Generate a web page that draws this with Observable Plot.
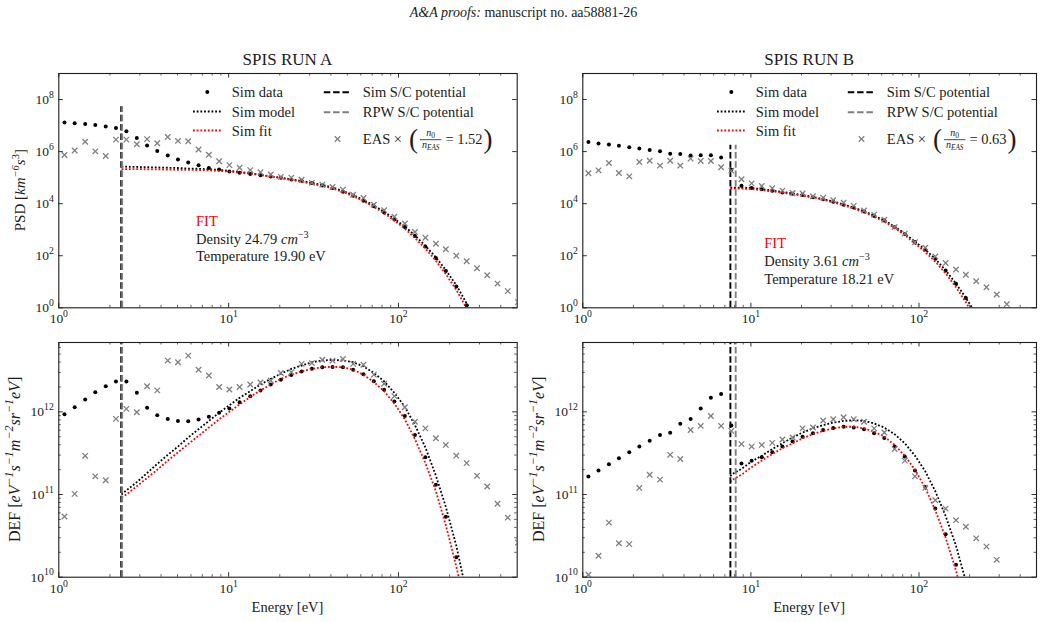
<!DOCTYPE html>
<html>
<head>
<meta charset="utf-8">
<script src="https://cdn.jsdelivr.net/npm/d3@7"></script>
<script src="https://cdn.jsdelivr.net/npm/@observablehq/plot@0.6"></script>
<style>
  html, body { margin: 0; padding: 0; background: #fff; }
  #chart { position: relative; width: 1047px; height: 622px; overflow: hidden; }
  #chart svg { position: absolute; left: 0; top: 0; }
</style>
</head>
<body>
<div id="chart"></div>
<script>
// ---------------------------------------------------------------------------
// Data. Spectra values are stored as log10 of the plotted quantity.
// ---------------------------------------------------------------------------

// Energy bins [eV] shared by the simulated and EAS spectra
const energy = [1.08, 1.24, 1.43, 1.64, 1.89, 2.17, 2.50, 2.88, 3.31, 3.80,
  4.38, 5.03, 5.78, 6.65, 7.65, 8.79, 10.1, 11.6, 13.4, 15.4,
  17.7, 20.3, 23.4, 26.9, 30.9, 35.6, 40.9, 47.1, 54.1, 62.2,
  71.6, 82.3, 94.6, 109, 125, 144, 166, 190, 219, 252,
  290, 333, 383, 440, 506];

// Run A — phase space density, log10 [km^-6 s^3]
const psdSimA = [7.115, 7.088, 7.06, 7.023, 6.96, 6.908, 6.78, 6.523, 6.23, 6.02,
  5.846, 5.70, 5.577, 5.473, 5.369, 5.31, 5.24, 5.19, 5.14, 5.09,
  5.04, 5.0, 4.93, 4.88, 4.79, 4.70, 4.60, 4.46, 4.30, 4.11,
  3.90, 3.66, 3.39, 3.10, 2.76, 2.355, 1.915, 1.415, 0.82, 0.10];
const psdEasA = [5.87, 6.04, 6.38, 6.01, 5.83, 6.46, 6.46, 6.28, 6.48, 6.32,
  6.56, 6.41, 6.40, 6.08, 5.88, 5.63, 5.48, 5.38, 5.29, 5.21,
  5.12, 5.03, 5.00, 4.92, 4.80, 4.73, 4.64, 4.54, 4.34, 4.22,
  3.96, 3.75, 3.50, 3.24, 2.91, 2.69, 2.46, 2.25, 2.00, 1.79,
  1.52, 1.25, 0.93, 0.64, 0.22];

// Run A — model and fit curves, starting at the simulated S/C potential
const curveEnergyA = [2.34, 2.50, 2.88, 3.31, 3.80, 4.38, 5.03, 5.78, 6.65, 7.65,
  8.79, 10.1, 11.6, 13.4, 15.4, 17.7, 20.3, 23.4, 26.9, 30.9,
  35.6, 40.9, 47.1, 54.1, 62.2, 71.6, 82.3, 94.6, 109, 125,
  144, 166, 190, 219, 252, 290];
const psdModelA = [5.42, 5.42, 5.41, 5.40, 5.39, 5.38, 5.37, 5.35, 5.34, 5.32,
  5.30, 5.26, 5.22, 5.17, 5.11, 5.05, 5.00, 4.93, 4.87, 4.80,
  4.72, 4.62, 4.49, 4.33, 4.14, 3.93, 3.69, 3.42, 3.12, 2.78,
  2.38, 1.94, 1.45, 0.87, 0.17, -0.6];
const psdFitA = [5.33, 5.33, 5.33, 5.32, 5.32, 5.31, 5.30, 5.30, 5.29, 5.28,
  5.26, 5.23, 5.19, 5.15, 5.10, 5.04, 4.98, 4.91, 4.84, 4.76,
  4.68, 4.58, 4.45, 4.29, 4.10, 3.88, 3.63, 3.35, 3.04, 2.68,
  2.27, 1.81, 1.29, 0.69, -0.02, -0.8];

// Run A — differential energy flux, log10 [eV^-1 s^-1 m^-2 sr^-1 eV]
const defSimA = [11.97, 12.056, 12.149, 12.237, 12.31, 12.366, 12.366, 12.23, 12.05, 11.96,
  11.915, 11.89, 11.886, 11.907, 11.94, 11.99, 12.04, 12.116, 12.19, 12.257,
  12.33, 12.387, 12.447, 12.487, 12.52, 12.54, 12.544, 12.54, 12.51, 12.455,
  12.37, 12.266, 12.124, 11.95, 11.72, 11.452, 11.117, 10.73, 10.24];
const defEasA = [10.734, 11.008, 11.468, 11.22, 11.173, 11.915, 12.036, 11.996, 12.31, 12.26,
  12.62, 12.60, 12.68, 12.51, 12.44, 12.30, 12.27, 12.30, 12.33, 12.355,
  12.38, 12.47, 12.48, 12.58, 12.59, 12.63, 12.62, 12.64, 12.58, 12.57,
  12.45, 12.34, 12.19, 12.055, 11.88, 11.80, 11.68, 11.60, 11.47, 11.38,
  11.226, 11.097, 10.888, 10.72, 10.42];
const defModelA = [11.00, 11.05, 11.15, 11.26, 11.37, 11.48, 11.58, 11.69, 11.79, 11.89,
  11.99, 12.08, 12.17, 12.25, 12.33, 12.40, 12.46, 12.52, 12.56, 12.60,
  12.62, 12.63, 12.62, 12.60, 12.55, 12.47, 12.37, 12.23, 12.06, 11.84,
  11.57, 11.23, 10.85, 10.38, 9.8, 9.1];
const defFitA = [10.965, 11.0, 11.1, 11.2, 11.3, 11.41, 11.51, 11.61, 11.71, 11.81,
  11.91, 12.0, 12.09, 12.18, 12.26, 12.33, 12.40, 12.45, 12.49, 12.52,
  12.54, 12.545, 12.54, 12.51, 12.45, 12.36, 12.25, 12.10, 11.91, 11.67,
  11.38, 11.04, 10.63, 10.13, 9.6, 8.9];

// Run B — phase space density
const psdSimB = [6.37, 6.31, 6.27, 6.22, 6.17, 6.12, 6.06, 6.01, 5.92, 5.91,
  5.85, 5.86, 5.86, 5.77, 5.30, 4.69, 4.60, 4.55, 4.50, 4.43,
  4.38, 4.33, 4.25, 4.17, 4.07, 3.96, 3.85, 3.70, 3.53, 3.355,
  3.095, 2.835, 2.525, 2.24, 1.885, 1.43, 0.92, 0.375, -0.1];
const psdEasB = [5.17, 5.28, 5.56, 5.18, 5.05, 5.60, 5.65, 5.46, 5.65, 5.46,
  5.73, 5.64, 5.64, 5.40, 5.27, 4.94, 4.78, 4.68, 4.59, 4.50,
  4.41, 4.39, 4.285, 4.23, 4.135, 4.035, 3.915, 3.74, 3.58, 3.38,
  3.10, 2.85, 2.52, 2.31, 1.97, 1.72, 1.47, 1.27, 1.02, 0.79,
  0.51, 0.14];

// Run B — model and fit curves
const curveEnergyB = [7.55, 7.65, 8.79, 10.1, 11.6, 13.4, 15.4, 17.7, 20.3, 23.4,
  26.9, 30.9, 35.6, 40.9, 47.1, 54.1, 62.2, 71.6, 82.3, 94.6,
  109, 125, 144, 166, 190, 219];
const psdModelB = [4.62, 4.62, 4.62, 4.60, 4.56, 4.51, 4.45, 4.39, 4.33, 4.26,
  4.18, 4.08, 3.97, 3.85, 3.71, 3.54, 3.36, 3.12, 2.85, 2.54,
  2.23, 1.88, 1.44, 0.93, 0.38, -0.25];
const psdFitB = [4.58, 4.58, 4.58, 4.56, 4.52, 4.47, 4.42, 4.36, 4.30, 4.23,
  4.15, 4.05, 3.94, 3.81, 3.67, 3.50, 3.31, 3.07, 2.79, 2.47,
  2.14, 1.77, 1.32, 0.79, 0.21, -0.45];

// Run B — differential energy flux
const defSimB = [11.218, 11.29, 11.366, 11.44, 11.51, 11.58, 11.65, 11.72, 11.746, 11.855,
  11.915, 12.04, 12.17, 12.217, 11.834, 11.375, 11.41, 11.45, 11.51, 11.58,
  11.64, 11.70, 11.74, 11.78, 11.806, 11.82, 11.81, 11.79, 11.74, 11.683,
  11.58, 11.46, 11.29, 11.09, 10.83, 10.52, 10.15];
const defEasB = [10.03, 10.26, 10.66, 10.41, 10.40, 11.08, 11.24, 11.18, 11.48, 11.43,
  11.78, 11.83, 11.95, 11.83, 11.77, 11.61, 11.58, 11.60, 11.625, 11.665,
  11.69, 11.80, 11.81, 11.895, 11.91, 11.935, 11.91, 11.88, 11.80, 11.75,
  11.55, 11.41, 11.22, 11.08, 10.93, 10.83, 10.69, 10.61, 10.47, 10.37,
  10.21];
const defModelB = [11.22, 11.24, 11.31, 11.40, 11.47, 11.55, 11.62, 11.69, 11.75, 11.80,
  11.84, 11.87, 11.89, 11.90, 11.89, 11.86, 11.81, 11.73, 11.62, 11.47,
  11.28, 11.04, 10.74, 10.38, 9.95, 9.4];
const defFitB = [11.15, 11.17, 11.24, 11.33, 11.41, 11.49, 11.56, 11.62, 11.68, 11.73,
  11.77, 11.80, 11.82, 11.82, 11.80, 11.76, 11.70, 11.60, 11.47, 11.30,
  11.08, 10.81, 10.48, 10.08, 9.6, 9.0];

// Spacecraft potentials [eV] for runs A and B, and height (log10 PSD) of their markers
const simPotential = [2.33, 7.55];
const rpwPotential = [2.36, 8.12];
const potentialTopPsd = [7.72, 6.24];

// Fit results and EAS normalisation for runs A and B
const runTitles = ["SPIS RUN A", "SPIS RUN B"];
const fitDensity = ["24.79", "3.61"];
const fitTemperature = ["19.90", "18.21"];
const easScale = ["1.52", "0.63"];

// Axis ticks
const xMajorTicks = [1, 10, 100];
const xMinorTicks = [2, 3, 4, 5, 6, 7, 8, 9, 20, 30, 40, 50, 60, 70, 80, 90, 200, 300, 400];
const psdMajorTicks = [1, 1e2, 1e4, 1e6, 1e8];
const defMajorTicks = [1e10, 1e11, 1e12];
const defMinorTicks = [2e10, 3e10, 4e10, 5e10, 6e10, 7e10, 8e10, 9e10,
  2e11, 3e11, 4e11, 5e11, 6e11, 7e11, 8e11, 9e11, 2e12, 3e12, 4e12, 5e12, 6e12];

// ---------------------------------------------------------------------------
// Layout and style
// ---------------------------------------------------------------------------
const PAGE_W = 1047, PAGE_H = 622;
const FONT = "'Liberation Serif', 'DejaVu Serif', serif";
const INK = "#1c1c1c";
const GRAY = "#808080";
const colLeft = [58.3, 582.3], colRight = [516.7, 1036];
const rowTop = [73, 342], rowBottom = [307.3, 576.7];
const psdDomain = [1, 1e9], defDomain = [1e10, 6.9e12];
const DOTTED = "1.8,1.9", DASHED = "6.5,2.8";
const DOT_W = 1.8;

const chart = document.getElementById("chart");
const rows = (xs, logs) => logs.map((v, i) => ({E: xs[i], v: 10 ** v}));

function frameTicks(xs, ys, fw, fh, len, width) {
  const o = {stroke: INK, strokeWidth: width};
  return [
    Plot.tickX(xs, {x: d => d, insetTop: fh - len, ...o}),
    Plot.tickX(xs, {x: d => d, insetBottom: fh - len, ...o}),
    Plot.tickY(ys, {y: d => d, insetRight: fw - len, ...o}),
    Plot.tickY(ys, {y: d => d, insetLeft: fw - len, ...o})
  ];
}

// Text with italic / superscript / subscript pieces
function rich(parent, parts, fs, supScale = 0.7) {
  const text = parent.append("text").attr("font-size", fs);
  let shift = 0;
  for (const p of parts) {
    const ts = text.append("tspan").text(p.t);
    const target = p.sup ? -0.42 * fs : p.sub ? 0.28 * fs : 0;
    if (target !== shift) { ts.attr("dy", target - shift); shift = target; }
    if (p.sup || p.sub) ts.attr("font-size", (p.small || supScale) * fs);
    if (p.it) ts.attr("font-style", "italic");
  }
  return text;
}

function drawPanel(col, row, series) {
  const fl = colLeft[col], fr = colRight[col], ft = rowTop[row], fb = rowBottom[row];
  const fw = fr - fl, fh = fb - ft;
  const isPsd = row === 0;
  const yDomain = isPsd ? psdDomain : defDomain;
  const yMajor = isPsd ? psdMajorTicks : defMajorTicks;
  const yMinor = isPsd ? [] : defMinorTicks;
  const potTop = isPsd ? 10 ** potentialTopPsd[col] : yDomain[1];
  const dotted = {strokeWidth: DOT_W, strokeDasharray: DOTTED, strokeLinecap: "butt", strokeLinejoin: "miter", clip: true};

  const svg = Plot.plot({
    width: PAGE_W, height: PAGE_H,
    marginLeft: fl, marginRight: PAGE_W - fr, marginTop: ft, marginBottom: PAGE_H - fb,
    style: {background: "transparent", fontFamily: FONT, fontSize: "13.5px", color: INK, overflow: "visible"},
    x: {type: "log", domain: [1, 500]},
    y: {type: "log", domain: yDomain},
    marks: [
      Plot.dot(rows(energy, series.sim), {x: "E", y: "v", r: 2, fill: "black", stroke: "none", clip: true}),
      Plot.line(rows(series.curveE, series.model), {x: "E", y: "v", stroke: "black", ...dotted}),
      Plot.line(rows(series.curveE, series.fit), {x: "E", y: "v", stroke: "red", ...dotted}),
      Plot.ruleX([simPotential[col]], {x: d => d, y1: yDomain[0], y2: potTop, stroke: "black", strokeWidth: 1.9, strokeDasharray: DASHED}),
      Plot.ruleX([rpwPotential[col]], {x: d => d, y1: yDomain[0], y2: potTop, stroke: GRAY, strokeWidth: 1.9, strokeDasharray: DASHED}),
      Plot.dot(rows(energy, series.eas), {x: "E", y: "v", symbol: "times", r: 2.6, stroke: GRAY, strokeWidth: 1.3, clip: true}),
      ...frameTicks(xMajorTicks, yMajor, fw, fh, 4.5, 0.9),
      ...frameTicks(xMinorTicks, yMinor, fw, fh, 2.5, 0.7),
      Plot.frame({stroke: INK, strokeWidth: 1.1}),
      Plot.axisX({ticks: xMajorTicks, tickSize: 0, tickPadding: 6, label: null,
        tickFormat: d => `10^${Math.round(Math.log10(d))}`}),
      Plot.axisY({ticks: yMajor, tickSize: 0, tickPadding: 5, label: null,
        tickFormat: d => `10^${Math.round(Math.log10(d))}`})
    ]
  });
  chart.append(svg);

  const s = d3.select(svg);
  // exponent tick labels: 10 with a raised power
  s.selectAll('g[aria-label$="tick label"] text').each(function () {
    const m = /^10\^(-?\d+)$/.exec(this.textContent);
    if (!m) return;
    const t = d3.select(this);
    t.text("10");
    t.append("tspan").attr("font-size", "0.72em").attr("dy", "-0.62em").text(m[1]);
  });
  return {s, fl, fr, ft, fb};
}

function textGroup(p) {
  return p.s.append("g").attr("font-family", FONT).attr("fill", INK).attr("text-anchor", "start");
}

function drawLegend(p, col) {
  const g = textGroup(p);
  const x0 = p.fl, y0 = p.ft, fs = 14.5;
  const r1 = y0 + 19, r2 = y0 + 38.5, r3 = y0 + 57.5;
  // column 1
  g.append("circle").attr("cx", x0 + 149).attr("cy", r1).attr("r", 2).attr("fill", "black");
  g.append("line").attr("x1", x0 + 134.7).attr("x2", x0 + 162.5).attr("y1", r2).attr("y2", r2)
    .attr("stroke", "black").attr("stroke-width", DOT_W).attr("stroke-dasharray", DOTTED);
  g.append("line").attr("x1", x0 + 134.7).attr("x2", x0 + 162.5).attr("y1", r3).attr("y2", r3)
    .attr("stroke", "red").attr("stroke-width", DOT_W).attr("stroke-dasharray", DOTTED);
  [["Sim data", r1], ["Sim model", r2], ["Sim fit", r3]].forEach(([t, y]) =>
    g.append("text").attr("x", x0 + 173.5).attr("y", y + 5).attr("font-size", fs).text(t));
  // column 2
  const c1 = y0 + 19.3, c2 = y0 + 39.3, c3 = y0 + 66;
  g.append("line").attr("x1", x0 + 265.5).attr("x2", x0 + 293.3).attr("y1", c1).attr("y2", c1)
    .attr("stroke", "black").attr("stroke-width", 1.9).attr("stroke-dasharray", DASHED);
  g.append("line").attr("x1", x0 + 265.5).attr("x2", x0 + 293.3).attr("y1", c2).attr("y2", c2)
    .attr("stroke", GRAY).attr("stroke-width", 1.9).attr("stroke-dasharray", DASHED);
  g.append("path").attr("transform", `translate(${x0 + 279.2},${c3})`)
    .attr("d", d3.symbol(d3.symbolTimes, Math.PI * 2.6 * 2.6)())
    .attr("fill", "none").attr("stroke", GRAY).attr("stroke-width", 1.3);
  const tx = x0 + 304.5;
  g.append("text").attr("x", tx).attr("y", c1 + 5).attr("font-size", fs).text("Sim S/C potential");
  g.append("text").attr("x", tx).attr("y", c2 + 5).attr("font-size", fs).text("RPW S/C potential");
  // EAS × (n0 / nEAS = k)
  const base = c3 + 5;
  const eas = g.append("text").attr("x", tx).attr("y", base).attr("font-size", fs).text("EAS ×");
  let cx = tx + eas.node().getComputedTextLength() + 7;
  const lp = g.append("text").attr("x", cx).attr("y", base + 4).attr("font-size", 27)
    .attr("font-weight", 300).text("(");
  cx += lp.node().getComputedTextLength() + 2;
  const den = rich(g, [{t: "n", it: true}, {t: "EAS", it: true, sub: true, small: 0.72}], 10);
  const dw = den.node().getComputedTextLength();
  const fracW = dw + 4;
  den.attr("x", cx + fracW / 2).attr("y", base + 3.5).attr("text-anchor", "middle");
  const num = rich(g, [{t: "n", it: true}, {t: "0", sub: true, small: 0.75}], 10);
  num.attr("x", cx + fracW / 2).attr("y", base - 8.5).attr("text-anchor", "middle");
  g.append("line").attr("x1", cx).attr("x2", cx + fracW).attr("y1", base - 4.3).attr("y2", base - 4.3)
    .attr("stroke", INK).attr("stroke-width", 0.8);
  cx += fracW + 4;
  const eq = g.append("text").attr("x", cx).attr("y", base).attr("font-size", fs).text(`= ${easScale[col]}`);
  cx += eq.node().getComputedTextLength() + 1;
  g.append("text").attr("x", cx).attr("y", base + 4).attr("font-size", 27).text(")");
}

function drawFitNote(p, col, dx, dy) {
  const g = textGroup(p);
  const x = p.fl + dx, y = p.ft + dy, fs = 14.5;
  g.append("text").attr("x", x).attr("y", y).attr("font-size", fs).attr("fill", "red").text("FIT");
  rich(g, [{t: `Density ${fitDensity[col]} `}, {t: "cm", it: true}, {t: "−3", sup: true}], fs)
    .attr("x", x).attr("y", y + 17.7);
  g.append("text").attr("x", x).attr("y", y + 35.4).attr("font-size", fs)
    .text(`Temperature ${fitTemperature[col]} eV`);
}

function yLabel(p, x, parts, fs, supScale) {
  const cy = (p.ft + p.fb) / 2;
  rich(textGroup(p).attr("transform", `translate(${x},${cy}) rotate(-90)`), parts, fs, supScale)
    .attr("text-anchor", "middle");
}

function xLabel(p) {
  p.s.append("text").attr("x", (p.fl + p.fr) / 2).attr("y", p.fb + 35).attr("text-anchor", "middle")
    .attr("font-family", FONT).attr("font-size", 14.5).attr("fill", INK).text("Energy [eV]");
}

const psdLabel = [{t: "PSD ["}, {t: "km", it: true}, {t: "−6", sup: true, it: true}, {t: "s", it: true}, {t: "3", sup: true}, {t: "]"}];
const defLabel = [{t: "DEF ["}, {t: "eV", it: true}, {t: "−1", sup: true, it: true}, {t: "s", it: true},
  {t: "−1", sup: true, it: true}, {t: "m", it: true}, {t: "−2", sup: true, it: true}, {t: "sr", it: true},
  {t: "−1", sup: true, it: true}, {t: "eV", it: true}, {t: "]"}];

// Run A
const aTop = drawPanel(0, 0, {sim: psdSimA, eas: psdEasA, curveE: curveEnergyA, model: psdModelA, fit: psdFitA});
const aBot = drawPanel(0, 1, {sim: defSimA, eas: defEasA, curveE: curveEnergyA, model: defModelA, fit: defFitA});
// Run B
const bTop = drawPanel(1, 0, {sim: psdSimB, eas: psdEasB, curveE: curveEnergyB, model: psdModelB, fit: psdFitB});
const bBot = drawPanel(1, 1, {sim: defSimB, eas: defEasB, curveE: curveEnergyB, model: defModelB, fit: defFitB});

drawLegend(aTop, 0);
drawLegend(bTop, 1);
drawFitNote(aTop, 0, 137.7, 153);
drawFitNote(bTop, 1, 182, 175.3);
yLabel(aTop, 25, psdLabel, 15);
yLabel(aBot, 19.5, defLabel, 16, 0.75);
yLabel(bBot, 543.5, defLabel, 16, 0.75);
xLabel(aBot);
xLabel(bBot);

// Run titles and page header
[aTop, bTop].forEach((p, i) => {
  p.s.append("text").attr("x", (p.fl + p.fr) / 2).attr("y", p.ft - 8).attr("text-anchor", "middle")
    .attr("font-family", FONT).attr("font-size", 17).attr("fill", INK).text(runTitles[i]);
});
const header = aTop.s.append("text").attr("x", PAGE_W / 2).attr("y", 17).attr("text-anchor", "middle")
  .attr("font-family", FONT).attr("font-size", 14).attr("fill", INK);
header.append("tspan").attr("font-style", "italic").text("A&A proofs:");
header.append("tspan").text(" manuscript no. aa58881-26");
</script>
</body>
</html>
